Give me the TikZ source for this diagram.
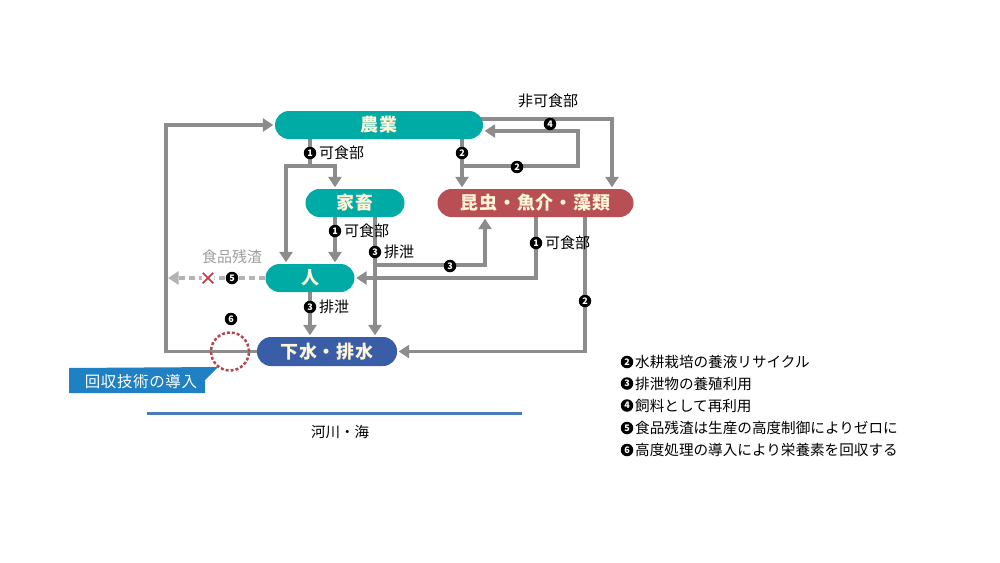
\documentclass[tikz,border=0pt]{standalone}
\usepackage{fontspec}
\setmainfont{Noto Sans CJK JP}
\usetikzlibrary{arrows.meta,shapes.misc,calc}
\definecolor{cteal}{HTML}{00AAA5}
\definecolor{cred}{HTML}{B84F55}
\definecolor{cblue}{HTML}{3A5DA8}
\definecolor{ccream}{HTML}{FFF6D8}
\definecolor{cgray}{HTML}{8C8C8C}
\definecolor{clgray}{HTML}{B4B4B4}
\definecolor{ctgray}{HTML}{A0A0A0}
\definecolor{cring}{HTML}{B5474D}
\definecolor{ccall}{HTML}{1F80C3}
\definecolor{criver}{HTML}{4A7BBD}
\definecolor{cx}{HTML}{C8343C}
\pgfdeclarelayer{bg}
\pgfsetlayers{bg,main}
\tikzset{
  box/.style={rectangle, rounded corners=14pt, minimum height=28pt, text=ccream, inner sep=0pt,
    font=\fontsize{18}{20}\selectfont\bfseries\addfontfeature{LetterSpace=5}},
  arr/.style={draw=cgray, line width=3.2pt, line join=miter, -{Triangle[length=10.5pt,width=13pt]}, shorten >=1.5pt},
  plain/.style={draw=cgray, line width=3.2pt},
  dasharr/.style={draw=clgray, line width=3.2pt, dash pattern=on 6pt off 4pt, -{Triangle[length=10.5pt,width=13pt]}},
  num/.style={circle, fill=black, text=white, minimum size=12.5pt, inner sep=0pt, font=\fontsize{9}{9}\selectfont\bfseries},
  lnum/.style={num, minimum size=12.5pt, font=\fontsize{9}{9}\selectfont\bfseries},
  lab/.style={font=\fontsize{15}{17}\selectfont, anchor=west, inner sep=0pt},
  leg/.style={font=\fontsize{14.6}{16}\selectfont, anchor=west, inner sep=0pt},
}
\begin{document}
\begin{tikzpicture}[x=1pt,y=-1pt]
\useasboundingbox (0,0) rectangle (1000,562);

% main boxes
\node[box, fill=cteal, minimum width=208pt] (nogyo) at (379,125) {農業};
\node[box, fill=cteal, minimum width=99pt] (kachiku) at (355,203) {家畜};
\node[box, fill=cred, minimum width=196pt] (konchu) at (535.5,203) {昆虫・魚介・藻類};
\node[box, fill=cteal, minimum width=89pt] (hito) at (310,278) {人};
\node[box, fill=cblue, minimum width=140pt, minimum height=29pt] (gesui) at (327,351.5) {下水・排水};

% coordinates
\coordinate (L) at (166,351.5);
\coordinate (j1) at (310,166);
\coordinate (j1l) at (286,166);
\coordinate (j1r) at (335,166);
\coordinate (k3) at (375,265);
\coordinate (k3r) at (485,265);
\coordinate (c1) at (536,278);
\coordinate (c2) at (585,351.5);
\coordinate (n2) at (462,166);
\coordinate (n2r) at (578,166);
\coordinate (n2t) at (578,131);
\coordinate (n4c) at (612,119);
\coordinate (d5) at (168,278);

\begin{pgfonlayer}{bg}
\fill[white] (0,0) rectangle (1000,562);
\draw[arr] (gesui.west) -- (L) |- (nogyo.west);
\draw[plain] (nogyo.south -| j1) -- (j1);
\draw[arr] (j1) -- (j1l) -- (hito.north -| j1l);
\draw[arr] (j1) -- (j1r) -- (kachiku.north -| j1r);
\draw[arr] (kachiku.south -| j1r) -- (hito.north -| j1r);
\draw[arr] ($(kachiku.south -| k3)+(0,-5)$) -- (gesui.north -| k3);
\draw[arr] (k3) -- (k3r) -- (konchu.south -| k3r);
\draw[arr] (konchu.south -| c1) -- (c1) -- (hito.east);
\draw[arr] (konchu.south -| c2) -- (c2) -- (gesui.east);
\draw[arr] (hito.south) -- (gesui.north -| hito.south);
\draw[arr] (nogyo.south -| n2) -- (konchu.north -| n2);
\draw[arr] (n2) -- (n2r) -- (n2t) -- (nogyo.east |- n2t);
\draw[arr] ($(nogyo.east |- n4c)+(-10,0)$) -- (n4c) -- (konchu.north -| n4c);
\draw[dasharr] (hito.west) -- (d5);
\end{pgfonlayer}

% cross and numbers
\fill[white] (208,278) circle (6.5);
\node[cross out, draw=cx, line width=1.5pt, minimum size=9pt, inner sep=0pt] (xx) at (208,278) {};
\node[num] (m5) at (232,278) {5};
\node[lab, anchor=center, text=ctgray] (lfood) at (232,257) {食品残渣};

\node[num] (m1a) at (310,153) {1};
\node[lab] (l1a) at (319,153) {可食部};
\node[num] (m1b) at (335,231) {1};
\node[lab] (l1b) at (344,231) {可食部};
\node[num] (m3a) at (375,252) {3};
\node[lab] (l3a) at (384,252) {排泄};
\node[num] (m3b) at (450,266) {3};
\node[num] (m1c) at (536,243) {1};
\node[lab] (l1c) at (545,243) {可食部};
\node[num] (m2c) at (585,301) {2};
\node[num] (m3c) at (310,307) {3};
\node[lab] (l3c) at (319,307) {排泄};
\node[num] (m2a) at (462,153) {2};
\node[num] (m2b) at (517,167) {2};
\node[num] (m4) at (550,124) {4};
\node[lab, anchor=center] (lhi) at (548,101) {非可食部};
\node[num] (m6) at (231,319) {6};

% recovery ring
\node[circle, minimum size=38pt, draw=cring, line width=2.5pt, dash pattern=on 3pt off 2pt, inner sep=0pt] (ring) at (230,351.5) {};

% callout
\fill[ccall] (69,368) -- (218,367) -- (205,380) -- (205,393) -- (69,393) -- cycle;
\node[text=white, inner sep=0pt, font=\fontsize{15.5}{17}\selectfont\addfontfeature{LetterSpace=4}] (callout) at (141,381.5) {回収技術の導入};

% river
\coordinate (r1) at (147,413);
\coordinate (r2) at (522,413);
\draw[criver, line width=3pt] (r1) -- (r2);
\node[font=\fontsize{14.5}{16}\selectfont, inner sep=0pt] (river) at (340,432) {河川・海};

% legend
\node[lnum] (g2) at (627,362) {2};
\node[leg] (t2) at (635,362) {水耕栽培の養液リサイクル};
\node[lnum] (g3) at (627,383.5) {3};
\node[leg] (t3) at (635,383.5) {排泄物の養殖利用};
\node[lnum] (g4) at (627,405.5) {4};
\node[leg] (t4) at (635,405.5) {飼料として再利用};
\node[lnum] (g5) at (627,428) {5};
\node[leg] (t5) at (635,428) {食品残渣は生産の高度制御によりゼロに};
\node[lnum] (g6) at (627,450) {6};
\node[leg] (t6) at (635,450) {高度処理の導入により栄養素を回収する};
\end{tikzpicture}
\end{document}
